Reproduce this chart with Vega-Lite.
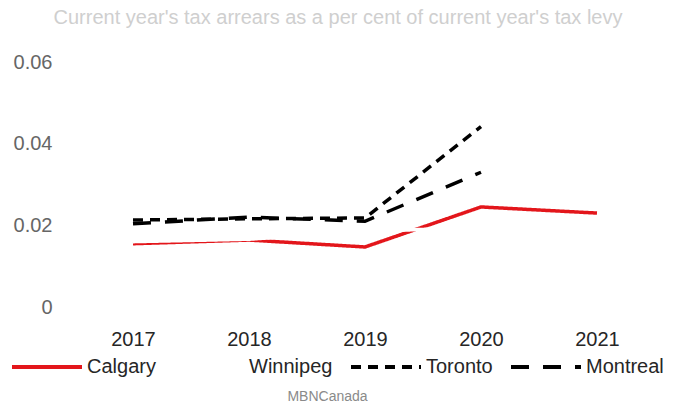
{
  "$schema": "https://vega.github.io/schema/vega-lite/v6.json",
  "autosize": "none",
  "width": 580,
  "height": 245,
  "padding": {"left": 75, "top": 62, "right": 18, "bottom": 104},
  "background": "white",
  "config": {"view": {"stroke": null}, "font": "Liberation Sans"},
  "title": {
    "text": "Current year's tax arrears as a per cent of current year's tax levy",
    "fontSize": 20,
    "fontWeight": "normal",
    "color": "#cfcfcf",
    "anchor": "middle",
    "dx": -27,
    "offset": 24
  },
  "data": {
    "values": [
      {"year": "2017", "city": "Calgary", "value": 0.0155},
      {"year": "2018", "city": "Calgary", "value": 0.0164},
      {"year": "2019", "city": "Calgary", "value": 0.0147},
      {"year": "2020", "city": "Calgary", "value": 0.0245},
      {"year": "2021", "city": "Calgary", "value": 0.0230},
      {"year": "2017", "city": "Winnipeg", "value": 0.0160},
      {"year": "2018", "city": "Winnipeg", "value": 0.0166},
      {"year": "2019", "city": "Winnipeg", "value": 0.0185},
      {"year": "2020", "city": "Winnipeg", "value": 0.0195},
      {"year": "2021", "city": "Winnipeg", "value": 0.0200},
      {"year": "2017", "city": "Toronto", "value": 0.0213},
      {"year": "2018", "city": "Toronto", "value": 0.0216},
      {"year": "2019", "city": "Toronto", "value": 0.0218},
      {"year": "2020", "city": "Toronto", "value": 0.0442},
      {"year": "2017", "city": "Montreal", "value": 0.0204},
      {"year": "2018", "city": "Montreal", "value": 0.0220},
      {"year": "2019", "city": "Montreal", "value": 0.0210},
      {"year": "2020", "city": "Montreal", "value": 0.0330}
    ]
  },
  "mark": {"type": "line", "strokeWidth": 3.5},
  "encoding": {
    "x": {
      "field": "year",
      "type": "ordinal",
      "scale": {"type": "point", "padding": 0.5},
      "axis": {
        "title": "MBNCanada",
        "titleFontSize": 14,
        "titleFontWeight": "normal",
        "titleColor": "#8a8a8a",
        "titlePadding": 40,
        "titleX": 252,
        "titleAlign": "center",
        "labelAngle": 0,
        "labelFontSize": 20,
        "labelColor": "#262626",
        "labelPadding": 22,
        "domain": false,
        "ticks": false,
        "grid": false
      }
    },
    "y": {
      "field": "value",
      "type": "quantitative",
      "scale": {"domain": [0, 0.06]},
      "axis": {
        "title": null,
        "values": [0, 0.02, 0.04, 0.06],
        "format": ".2~f",
        "labelFontSize": 20,
        "labelColor": "#666666",
        "labelPadding": 23,
        "domain": false,
        "ticks": false,
        "grid": false
      }
    },
    "color": {
      "field": "city",
      "type": "nominal",
      "sort": ["Calgary", "Winnipeg", "Toronto", "Montreal"],
      "scale": {"domain": ["Calgary", "Winnipeg", "Toronto", "Montreal"], "range": ["#e3161b", "#ffffff", "#000000", "#000000"]},
      "legend": {
        "title": null,
        "orient": "none",
        "legendX": -65,
        "legendY": 268,
        "direction": "horizontal",
        "columns": 4,
        "symbolType": "stroke",
        "symbolSize": 4900,
        "symbolStrokeWidth": 4,
        "labelFontSize": 20,
        "labelColor": "#262626",
        "labelOffset": 3,
        "columnPadding": 10,
        "labelLimit": 200
      }
    },
    "strokeDash": {
      "field": "city",
      "type": "nominal",
      "sort": ["Calgary", "Winnipeg", "Toronto", "Montreal"],
      "scale": {"domain": ["Calgary", "Winnipeg", "Toronto", "Montreal"], "range": [[1, 0], [1, 0], [10, 7], [18, 14]]},
      "legend": null
    }
  }
}
